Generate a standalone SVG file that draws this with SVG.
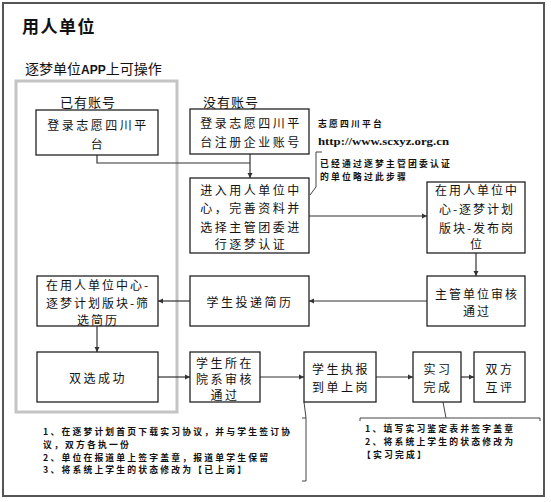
<svg xmlns="http://www.w3.org/2000/svg" width="551" height="502" viewBox="0 0 551 502">
<defs>
<marker id="arr" markerUnits="userSpaceOnUse" markerWidth="6" markerHeight="6" refX="5" refY="3" orient="auto">
<path d="M0,0.5 L5,3 L0,5.5 Z" fill="#333"/>
</marker>
<style>
.box{fill:#fff;stroke:#222;stroke-width:1.3}
.t{font-family:"Noto Sans CJK SC","Liberation Sans",sans-serif;font-size:12px;letter-spacing:2.5px;fill:#111;text-anchor:middle;dominant-baseline:central}
.t2{letter-spacing:2px}
.lbl{font-family:"Noto Sans CJK SC","Liberation Sans",sans-serif;font-size:13px;letter-spacing:1px;fill:#111}
.note{font-family:"Noto Sans CJK SC","Liberation Serif",serif;font-size:8.8px;letter-spacing:2.2px;font-weight:bold;fill:#111}
.c{fill:none;stroke:#333;stroke-width:1.2}
.lead{fill:none;stroke:#444;stroke-width:1}
</style>
</defs>
<rect x="3" y="3" width="541" height="493" fill="#fff" stroke="#555" stroke-width="2"/>
<text x="22" y="33" font-family="'Noto Sans CJK SC',sans-serif" font-size="17" font-weight="bold" letter-spacing="1.5" fill="#111">用人单位</text>
<text x="25" y="74" font-family="'Noto Sans CJK SC',sans-serif" font-size="14" fill="#111">逐梦单位<tspan font-weight="bold" font-family="'Liberation Sans',sans-serif" font-size="12">APP</tspan>上可操作</text>
<rect x="16" y="81" width="161" height="331" fill="none" stroke="#c4c4c4" stroke-width="3"/>
<text class="lbl" x="60" y="107">已有账号</text>
<text class="lbl" x="203" y="107">没有账号</text>
<g id="connectors">
<path class="c" d="M97,155 V163 H250"/>
<path class="c" d="M250,154 V178" marker-end="url(#arr)"/>
<path class="c" d="M309,216 H427" marker-end="url(#arr)"/>
<path class="c" d="M476,253 V276" marker-end="url(#arr)"/>
<path class="c" d="M427,301 H309" marker-end="url(#arr)"/>
<path class="c" d="M190,301 H158" marker-end="url(#arr)"/>
<path class="c" d="M97,326 V352" marker-end="url(#arr)"/>
<path class="c" d="M158,377 H190" marker-end="url(#arr)"/>
<path class="c" d="M260,377 H304" marker-end="url(#arr)"/>
<path class="c" d="M376,377 H413" marker-end="url(#arr)"/>
<path class="c" d="M461,377 H474" marker-end="url(#arr)"/>
<path class="lead" d="M322,152 H316 V187 L310,195"/>
<path class="lead" d="M304,402 L306,418 M302,418 H306 V481 H302"/>
<path class="lead" d="M443,402 L446,418 M360,421 V418 H540 V421"/>
</g>
<g id="n1"><rect class="box" x="36" y="110" width="122" height="45"/>
<text class="t" x="98" y="124">登录志愿四川平<tspan x="98" dy="19">台</tspan></text></g>
<g id="n2"><rect class="box" x="190" y="109" width="119" height="45"/>
<text class="t" x="251" y="122">登录志愿四川平<tspan x="251" dy="19">台注册企业账号</tspan></text></g>
<g id="n3"><rect class="box" x="190" y="178" width="119" height="75"/>
<text class="t" x="251" y="189">进入用人单位中<tspan x="251" dy="18">心，完善资料并</tspan><tspan x="251" dy="18.5">选择主管团委进</tspan><tspan x="251" dy="17.5">行逐梦认证</tspan></text></g>
<g id="n4"><rect class="box" x="427" y="182" width="98" height="71"/>
<text class="t t2" x="477" y="189">在用人单位中<tspan x="477" dy="19">心-逐梦计划</tspan><tspan x="477" dy="19">版块-发布岗</tspan><tspan x="477" dy="16">位</tspan></text></g>
<g id="n5"><rect class="box" x="427" y="276" width="98" height="50"/>
<text class="t t2" x="477" y="293">主管单位审核<tspan x="477" dy="17">通过</tspan></text></g>
<g id="n6"><rect class="box" x="190" y="276" width="119" height="50"/>
<text class="t" x="250" y="301">学生投递简历</text></g>
<g id="n7"><rect class="box" x="37" y="276" width="121" height="50"/>
<text class="t t2" x="98" y="284">在用人单位中心-<tspan x="98" dy="18">逐梦计划版块-筛</tspan><tspan x="98" dy="17">选简历</tspan></text></g>
<g id="n8"><rect class="box" x="37" y="352" width="121" height="50"/>
<text class="t" x="98" y="377">双选成功</text></g>
<g id="n9"><rect class="box" x="190" y="352" width="70" height="50"/>
<text class="t" x="225" y="362">学生所在<tspan x="225" dy="16">院系审核</tspan><tspan x="225" dy="16">通过</tspan></text></g>
<g id="n10"><rect class="box" x="304" y="352" width="72" height="50"/>
<text class="t" x="341" y="368">学生执报<tspan x="341" dy="18">到单上岗</tspan></text></g>
<g id="n11"><rect class="box" x="413" y="352" width="48" height="50"/>
<text class="t" x="438" y="368">实习<tspan x="438" dy="18">完成</tspan></text></g>
<g id="n12"><rect class="box" x="474" y="352" width="51" height="50"/>
<text class="t" x="500" y="368">双方<tspan x="500" dy="18">互评</tspan></text></g>
<g id="notes">
<text class="note" x="318" y="127">志愿四川平台<tspan x="318" dy="18" font-size="10" font-family="'Liberation Serif',serif" letter-spacing="0" textLength="131" lengthAdjust="spacingAndGlyphs">http://www.scxyz.org.cn</tspan></text>
<text class="note" x="320" y="167">已经通过逐梦主管团委认证<tspan x="320" dy="13">的单位略过此步骤</tspan></text>
<text class="note" x="43" y="435">1、在逐梦计划首页下载实习协议，并与学生签订协<tspan x="43" dy="12.8">议，双方各执一份</tspan><tspan x="43" dy="12.8">2、单位在报道单上签字盖章，报道单学生保留</tspan><tspan x="43" dy="12.8">3、将系统上学生的状态修改为【已上岗】</tspan></text>
<text class="note" x="365" y="432" letter-spacing="2">1、填写实习鉴定表并签字盖章<tspan x="365" dy="13">2、将系统上学生的状态修改为</tspan><tspan x="362" dy="13">【实习完成】</tspan></text>
</g>
</svg>
